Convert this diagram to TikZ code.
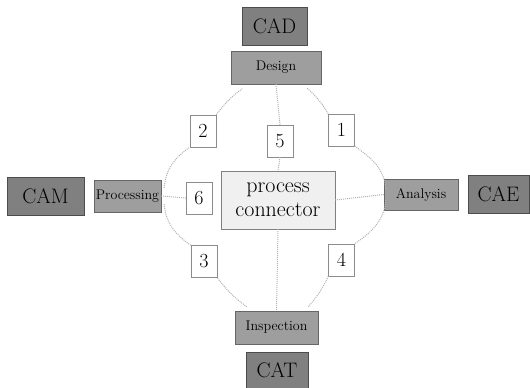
\documentclass[tikz,border=0pt]{standalone}
\usepackage{xcolor}

\tikzset{
  sysbox/.style={draw=black!70, fill=black!50, inner sep=0pt, font=\fontsize{21}{24}\selectfont},
  stagebox/.style={draw=black!60, fill=black!38, inner sep=0pt, font=\fontsize{14}{16}\selectfont},
  numbox/.style={draw=black!45, fill=white, inner sep=0pt, minimum width=26pt, minimum height=32pt, font=\fontsize{20}{22}\selectfont},
  link/.style={draw=black!30, densely dotted, line width=1pt},
}

\begin{document}
\begin{tikzpicture}[x=1pt, y=-1pt]
\useasboundingbox (0,0) rectangle (530,388);

\node[sysbox, minimum width=65pt, minimum height=38pt] (cad) at (274.5,26) {CAD};
\node[sysbox, minimum width=77pt, minimum height=38pt] (cam) at (45.5,196) {CAM};
\node[sysbox, minimum width=61pt, minimum height=38pt] (cae) at (498.5,194) {CAE};
\node[sysbox, minimum width=62pt, minimum height=36pt] (cat) at (277,370) {CAT};

\node[stagebox, minimum width=90pt, minimum height=33pt] (design) at (276,67.5) {Design};
\node[stagebox, minimum width=67pt, minimum height=32pt] (processing) at (127.5,196) {Processing};
\node[stagebox, minimum width=74pt, minimum height=31pt] (analysis) at (421,194.5) {Analysis};
\node[stagebox, minimum width=83pt, minimum height=33pt] (inspection) at (276.5,327.5) {Inspection};

\node[draw=black!50, fill=black!6, minimum width=114pt, minimum height=58pt, inner sep=0pt,
  align=center, font=\fontsize{22}{24}\selectfont] (conn) at (278,200) {process\\connector};

\node[numbox] (n1) at (341.5,130) {1};
\node[numbox] (n2) at (203,131) {2};
\node[numbox] (n3) at (204,261.5) {3};
\node[numbox] (n4) at (341.5,260) {4};
\node[numbox] (n5) at (280,141) {5};
\node[numbox] (n6) at (199,198) {6};

% outer ring
\draw[link] ([xshift=-14pt,yshift=-4pt]design.south east) to[bend left=8] (n1.north west);
\draw[link] (n1.south east) to[out=-35, in=95] ([xshift=2pt,yshift=-10pt]analysis.north west);
\draw[link] ([xshift=2pt,yshift=10pt]analysis.south west) to[out=-95, in=35] (n4.north east);
\draw[link] (n4.south west) to[bend left=8] ([xshift=-10pt,yshift=4pt]inspection.north east);
\draw[link] ([xshift=12pt,yshift=4pt]inspection.north west) to[bend left=8] (n3.south east);
\draw[link] (n3.north west) to[out=145, in=-85] ([xshift=3pt,yshift=8pt]processing.south east);
\draw[link] ([xshift=3pt,yshift=-8pt]processing.north east) to[out=85, in=-145] (n2.south west);
\draw[link] (n2.north east) to[bend left=8] ([xshift=12pt,yshift=-4pt]design.south west);

% spokes
\draw[link] (design.south) -- (n5.north);
\draw[link] (n5.south) -- (conn.north);
\draw[link] (conn.south) -- (inspection.north);
\draw[link] (processing.east) -- (n6.west);
\draw[link] (conn.east) -- (analysis.west);

\end{tikzpicture}
\end{document}
